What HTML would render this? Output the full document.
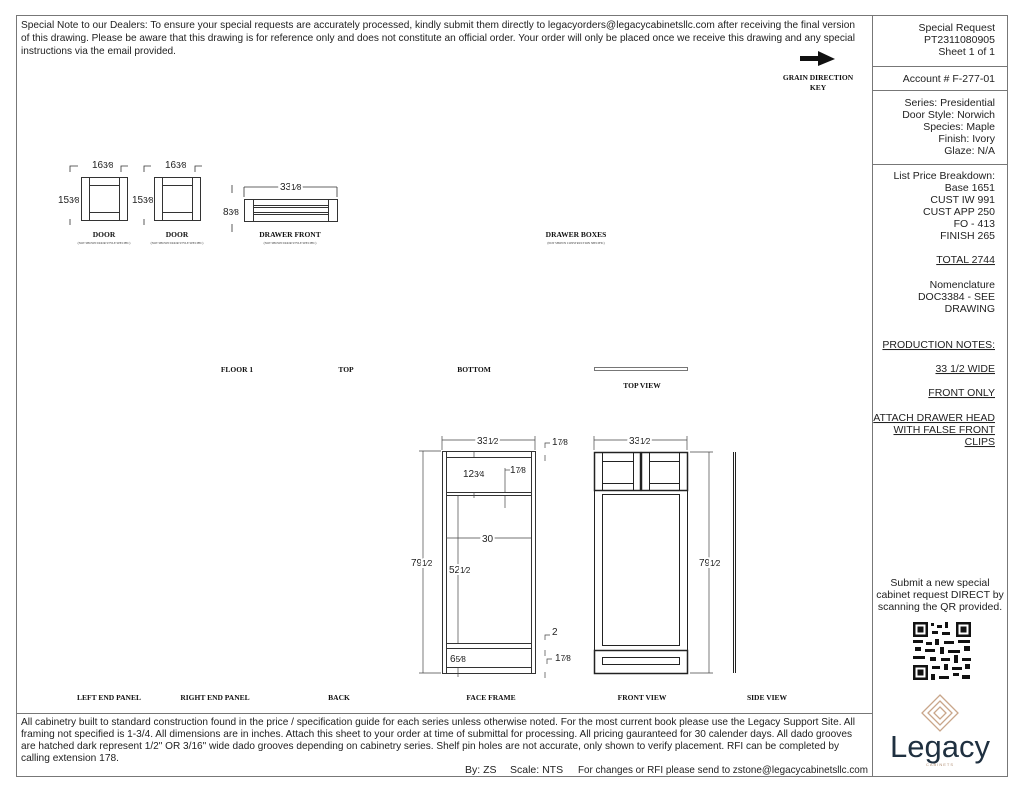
<!DOCTYPE html>
<html><head><meta charset="utf-8"><style>
html,body{margin:0;padding:0;background:#fff;}
svg{display:block;}
text{font-family:"Liberation Sans",Arial,sans-serif;fill:#222;}
.s{font-size:10.5px;}
.r{text-anchor:end;}
.b{font-family:"Liberation Serif",serif;font-weight:bold;font-size:7.5px;text-anchor:middle;fill:#111;}
.t{font-family:"Liberation Serif",serif;font-size:3px;text-anchor:middle;fill:#333;}
.d{font-size:10px;fill:#333;}
</style></head><body>
<svg width="1024" height="791" viewBox="0 0 1024 791" xmlns="http://www.w3.org/2000/svg">
<g fill="none" stroke="#777" stroke-width="1">
<rect x="16.5" y="15.5" width="991" height="761"/>
<line x1="872.5" y1="15" x2="872.5" y2="777"/>
<line x1="16" y1="713.5" x2="872" y2="713.5"/>
<line x1="872" y1="66.5" x2="1008" y2="66.5"/>
<line x1="872" y1="90.5" x2="1008" y2="90.5"/>
<line x1="872" y1="164.5" x2="1008" y2="164.5"/>
</g>
<g class="s" lengthAdjust="spacingAndGlyphs">
<text x="21" y="28" textLength="834" lengthAdjust="spacingAndGlyphs">Special Note to our Dealers: To ensure your special requests are accurately processed, kindly submit them directly to legacyorders@legacycabinetsllc.com after receiving the final version</text>
<text x="21" y="41" textLength="834" lengthAdjust="spacingAndGlyphs">of this drawing. Please be aware that this drawing is for reference only and does not constitute an official order. Your order will only be placed once we receive this drawing and any special</text>
<text x="21" y="54" textLength="155" lengthAdjust="spacingAndGlyphs">instructions via the email provided.</text>
</g>
<polygon points="800,56 818,56 818,51 835,59 818,66 818,61 800,61" fill="#111"/>
<text class="b" x="818" y="80">GRAIN DIRECTION</text>
<text class="b" x="818" y="90">KEY</text>
<g class="s r">
<text x="995" y="31">Special Request</text>
<text x="995" y="43">PT2311080905</text>
<text x="995" y="55">Sheet 1 of 1</text>
<text x="995" y="82">Account # F-277-01</text>
<text x="995" y="106">Series: Presidential</text>
<text x="995" y="118">Door Style: Norwich</text>
<text x="995" y="130">Species: Maple</text>
<text x="995" y="142">Finish: Ivory</text>
<text x="995" y="154">Glaze: N/A</text>
<text x="995" y="179">List Price Breakdown:</text>
<text x="995" y="191">Base 1651</text>
<text x="995" y="203">CUST IW 991</text>
<text x="995" y="215">CUST APP 250</text>
<text x="995" y="227">FO - 413</text>
<text x="995" y="239">FINISH 265</text>
<text x="995" y="263" text-decoration="underline">TOTAL 2744</text>
<text x="995" y="288">Nomenclature</text>
<text x="995" y="300">DOC3384 - SEE</text>
<text x="995" y="312">DRAWING</text>
<text x="995" y="348" text-decoration="underline">PRODUCTION NOTES:</text>
<text x="995" y="372" text-decoration="underline">33 1/2 WIDE</text>
<text x="995" y="396" text-decoration="underline">FRONT ONLY</text>
<text x="995" y="421" text-decoration="underline">ATTACH DRAWER HEAD</text>
<text x="995" y="433" text-decoration="underline">WITH FALSE FRONT</text>
<text x="995" y="445" text-decoration="underline">CLIPS</text>
</g>
<g class="s" text-anchor="middle">
<text x="940" y="586">Submit a new special</text>
<text x="940" y="598">cabinet request DIRECT by</text>
<text x="940" y="610">scanning the QR provided.</text>
</g>
<!-- QR -->
<g fill="#111">
<rect x="912" y="621" width="60" height="60" fill="#fff"/>
<rect x="913" y="622" width="15" height="15"/><rect x="915.5" y="624.5" width="10" height="10" fill="#fff"/><rect x="917.5" y="626.5" width="6" height="6"/>
<rect x="956" y="622" width="15" height="15"/><rect x="958.5" y="624.5" width="10" height="10" fill="#fff"/><rect x="960.5" y="626.5" width="6" height="6"/>
<rect x="913" y="665" width="15" height="15"/><rect x="915.5" y="667.5" width="10" height="10" fill="#fff"/><rect x="917.5" y="669.5" width="6" height="6"/>
<rect x="931" y="623" width="3" height="3"/><rect x="937" y="625" width="5" height="3"/><rect x="945" y="622" width="3" height="6"/><rect x="932" y="631" width="6" height="3"/><rect x="942" y="632" width="8" height="3"/>
<rect x="913" y="640" width="10" height="3"/><rect x="926" y="642" width="6" height="3"/><rect x="935" y="639" width="4" height="6"/><rect x="944" y="641" width="10" height="3"/><rect x="958" y="640" width="12" height="3"/>
<rect x="915" y="647" width="6" height="4"/><rect x="925" y="649" width="10" height="3"/><rect x="940" y="647" width="4" height="7"/><rect x="948" y="650" width="12" height="3"/><rect x="964" y="646" width="6" height="5"/>
<rect x="913" y="656" width="12" height="3"/><rect x="930" y="657" width="6" height="4"/><rect x="941" y="658" width="9" height="3"/><rect x="954" y="655" width="4" height="8"/><rect x="962" y="658" width="9" height="3"/>
<rect x="932" y="666" width="8" height="3"/><rect x="944" y="664" width="4" height="6"/><rect x="952" y="667" width="10" height="3"/><rect x="965" y="664" width="5" height="5"/>
<rect x="931" y="674" width="4" height="6"/><rect x="939" y="676" width="10" height="3"/><rect x="953" y="673" width="6" height="3"/><rect x="962" y="675" width="8" height="4"/>
</g>
<!-- Logo -->
<g fill="none" stroke="#c9a68a" stroke-width="1.3">
<polygon points="940,695 958,713 940,731 922,713"/>
<polygon points="940,701 952,713 940,725 928,713"/>
<polygon points="940,707 946,713 940,719 934,713"/>
</g>
<text x="940" y="757" text-anchor="middle" style="font-size:31px;fill:#1f3040;font-family:'Liberation Sans',sans-serif">Legacy</text>
<text x="940" y="766" text-anchor="middle" style="font-size:4px;fill:#b08e72;letter-spacing:1px">CABINETS</text>
<!-- footer -->
<g class="s">
<text x="21" y="725" textLength="834" lengthAdjust="spacingAndGlyphs">All cabinetry built to standard construction found in the price / specification guide for each series unless otherwise noted. For the most current book please use the Legacy Support Site. All</text>
<text x="21" y="737" textLength="831" lengthAdjust="spacingAndGlyphs">framing not specified is 1-3/4. All dimensions are in inches. Attach this sheet to your order at time of submittal for processing. All pricing gauranteed for 30 calender days. All dado grooves</text>
<text x="21" y="749" textLength="818" lengthAdjust="spacingAndGlyphs">are hatched dark represent 1/2" OR 3/16" wide dado grooves depending on cabinetry series. Shelf pin holes are not accurate, only shown to verify placement. RFI can be completed by</text>
<text x="21" y="761" textLength="98" lengthAdjust="spacingAndGlyphs">calling extension 178.</text>
<text x="465" y="773">By: ZS</text>
<text x="510" y="773">Scale: NTS</text>
<text x="578" y="773" textLength="290" lengthAdjust="spacingAndGlyphs">For changes or RFI please send to zstone@legacycabinetsllc.com</text>
</g>
<!-- doors -->
<g fill="none" stroke="#333" stroke-width="1">
<rect x="81.5" y="177.5" width="46" height="43"/><line x1="89.5" y1="177" x2="89.5" y2="221"/><line x1="119.5" y1="177" x2="119.5" y2="221"/><rect x="89.5" y="185.5" width="30" height="27"/>
<rect x="154.5" y="177.5" width="46" height="43"/><line x1="162.5" y1="177" x2="162.5" y2="221"/><line x1="192.5" y1="177" x2="192.5" y2="221"/><rect x="162.5" y="185.5" width="30" height="27"/>
<rect x="244.5" y="199.5" width="93" height="22"/><line x1="253.5" y1="199" x2="253.5" y2="222"/><line x1="328.5" y1="199" x2="328.5" y2="222"/><rect x="253.5" y="205.5" width="75" height="9"/><line x1="253" y1="207.5" x2="328" y2="207.5"/><line x1="253" y1="212.5" x2="328" y2="212.5"/>
</g>
<g fill="none" stroke="#333" stroke-width="0.8">
<path d="M70,172 V166 H78 M121,172 V166 H128"/><path d="M144,172 V166 H151 M195,172 V166 H202"/>
<path d="M70,219 V225 M144,219 V225"/>
<path d="M232,185 V193 M232,224 V232 M337,187 V197 M244,187 V197"/>
<line x1="244" y1="187" x2="337" y2="187"/>
</g>
<g class="d">
<text x="92" y="168">16<tspan font-size="8">3⁄8</tspan></text>
<text x="165" y="168">16<tspan font-size="8">3⁄8</tspan></text>
<text x="58" y="203">15<tspan font-size="8">3⁄8</tspan></text>
<text x="132" y="203">15<tspan font-size="8">3⁄8</tspan></text>
<text x="223" y="215">8<tspan font-size="8">3⁄8</tspan></text>
<text x="280" y="190" style="paint-order:stroke" stroke="#fff" stroke-width="4">33<tspan font-size="8">1⁄8</tspan></text>
</g>
<text class="b" x="104" y="237">DOOR</text><text class="t" x="104" y="244">(NOT SHOWN DOOR STYLE SPECIFIC)</text>
<text class="b" x="177" y="237">DOOR</text><text class="t" x="177" y="244">(NOT SHOWN DOOR STYLE SPECIFIC)</text>
<text class="b" x="290" y="237">DRAWER FRONT</text><text class="t" x="290" y="244">(NOT SHOWN DOOR STYLE SPECIFIC)</text>
<text class="b" x="576" y="237">DRAWER BOXES</text><text class="t" x="576" y="244">(NOT SHOWN CONSTRUCTION SPECIFIC)</text>
<text class="b" x="237" y="372">FLOOR 1</text>
<text class="b" x="346" y="372">TOP</text>
<text class="b" x="474" y="372">BOTTOM</text>
<text class="b" x="642" y="388">TOP VIEW</text>
<rect x="594.5" y="367.5" width="93" height="3" fill="none" stroke="#555" stroke-width="0.8"/>
<text class="b" x="109" y="700">LEFT END PANEL</text>
<text class="b" x="215" y="700">RIGHT END PANEL</text>
<text class="b" x="339" y="700">BACK</text>
<text class="b" x="491" y="700">FACE FRAME</text>
<text class="b" x="642" y="700">FRONT VIEW</text>
<text class="b" x="767" y="700">SIDE VIEW</text>
<!-- face frame -->
<g fill="none" stroke="#333" stroke-width="1">
<rect x="442.5" y="451.5" width="93" height="222"/>
<line x1="446.5" y1="451" x2="446.5" y2="673"/><line x1="531.5" y1="451" x2="531.5" y2="673"/>
<line x1="446" y1="457.5" x2="531" y2="457.5"/>
<line x1="446" y1="492.5" x2="531" y2="492.5"/><line x1="446" y1="495.5" x2="531" y2="495.5"/>
<line x1="446" y1="643.5" x2="531" y2="643.5"/><line x1="446" y1="648.5" x2="531" y2="648.5"/>
<line x1="446" y1="667.5" x2="531" y2="667.5"/>
</g>
<g fill="none" stroke="#444" stroke-width="0.7">
<line x1="442" y1="440" x2="535" y2="440"/><line x1="442" y1="436" x2="442" y2="450"/><line x1="535" y1="436" x2="535" y2="450"/>
<line x1="423" y1="451" x2="423" y2="673"/><line x1="419" y1="451" x2="441" y2="451"/><line x1="419" y1="673" x2="441" y2="673"/>
<line x1="446" y1="538" x2="531" y2="538"/>
<line x1="458" y1="495" x2="458" y2="643"/>
<line x1="474" y1="451" x2="474" y2="457"/><line x1="474" y1="492" x2="474" y2="498"/>
<line x1="505" y1="468" x2="505" y2="492"/><line x1="505" y1="496" x2="505" y2="508"/><path d="M505,470 H510"/>
<path d="M545,448 V443 H550 M545,455 V461"/>
<path d="M545,640 V635 H550 M545,650 V656 M547,664 V659 H552 M545,672 V678"/>
<line x1="458" y1="668" x2="458" y2="677"/>
<line x1="594" y1="440" x2="687" y2="440"/><line x1="594" y1="436" x2="594" y2="450"/><line x1="687" y1="436" x2="687" y2="450"/>
<line x1="709" y1="452" x2="709" y2="673"/><line x1="690" y1="452" x2="713" y2="452"/><line x1="690" y1="673" x2="713" y2="673"/>
</g>
<g fill="none" stroke="#222" stroke-width="1">
<rect x="594.5" y="452.5" width="93" height="221"/>
<rect x="594.5" y="452.5" width="46" height="38" stroke-width="1.5"/>
<rect x="641.5" y="452.5" width="46" height="38" stroke-width="1.5"/>
<line x1="602.5" y1="453" x2="602.5" y2="490"/><line x1="633.5" y1="453" x2="633.5" y2="490"/>
<line x1="649.5" y1="453" x2="649.5" y2="490"/><line x1="679.5" y1="453" x2="679.5" y2="490"/>
<rect x="602.5" y="461.5" width="31" height="22"/><rect x="649.5" y="461.5" width="30" height="22"/>
<rect x="602.5" y="494.5" width="77" height="151"/>
<rect x="594.5" y="650.5" width="93" height="23" stroke-width="1.5"/>
<rect x="602.5" y="657.5" width="77" height="7"/>
<line x1="733.5" y1="452" x2="733.5" y2="673"/><line x1="735.5" y1="452" x2="735.5" y2="673"/>
</g>
<g class="d" style="paint-order:stroke" stroke="#fff" stroke-width="4">
<text x="477" y="444">33<tspan font-size="8">1⁄2</tspan></text>
<text x="629" y="444">33<tspan font-size="8">1⁄2</tspan></text>
<text x="482" y="542">30</text>
<text x="449" y="573">52<tspan font-size="8">1⁄2</tspan></text>
<text x="411" y="566">79<tspan font-size="8">1⁄2</tspan></text>
<text x="699" y="566">79<tspan font-size="8">1⁄2</tspan></text>
</g>
<g class="d">
<text x="463" y="477">12<tspan font-size="8">3⁄4</tspan></text>
<text x="510" y="473">1<tspan font-size="8">7⁄8</tspan></text>
<text x="552" y="445">1<tspan font-size="8">7⁄8</tspan></text>
<text x="450" y="662">6<tspan font-size="8">5⁄8</tspan></text>
<text x="552" y="635">2</text>
<text x="555" y="661">1<tspan font-size="8">7⁄8</tspan></text>
</g>
</svg>
</body></html>
